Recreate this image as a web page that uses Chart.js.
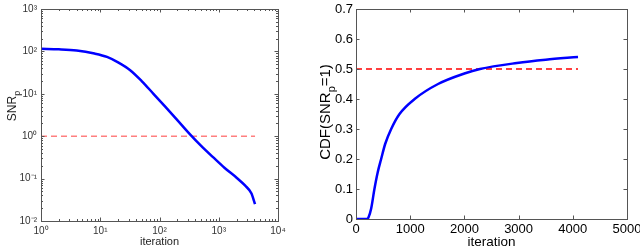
<!DOCTYPE html>
<html><head><meta charset="utf-8">
<script src="https://cdn.jsdelivr.net/npm/chart.js@4/dist/chart.umd.min.js"></script>
<style>
html,body{margin:0;padding:0;background:#fff;overflow:hidden}
#wrap{position:relative;width:640px;height:246px;background:#fff}
canvas{position:absolute;top:0}
#c1{left:0}
#c2{left:320px}
</style></head><body>
<div id="wrap"><canvas id="c1" width="320" height="246"></canvas><canvas id="c2" width="320" height="246"></canvas></div>
<script>
// ---- data ----
const snrIter = [1, 2, 4, 8, 13, 20, 32, 50, 79, 126, 200, 316, 500, 800, 1260, 2000, 2800, 3550, 4096];
const snrVals = [115, 112, 105, 89, 74, 55, 36, 20, 10, 4.9, 2.4, 1.17, 0.6, 0.32, 0.178, 0.105, 0.068, 0.045, 0.025];
const snrRefIter = [1, 4096];
const snrRefVals = [1, 1];

const cdfIter = [0, 100, 200, 230, 280, 340, 400, 464, 538, 649, 803, 1082, 1514, 2000, 2288, 2968, 3500, 4096];
const cdfVals = [0, 0, 0, 0.005, 0.035, 0.1, 0.155, 0.2, 0.25, 0.3, 0.35, 0.4, 0.45, 0.485, 0.5, 0.52, 0.531, 0.54];
const cdfRefIter = [0, 4096];
const cdfRefVals = [0.5, 0.5];

const logXTicks = [1, 10, 100, 1000, 10000];
const logYTicks = [0.01, 0.1, 1, 10, 100, 1000];
const linXTicks = [0, 1000, 2000, 3000, 4000, 5000];
const linYTicks = [0, 0.1, 0.2, 0.3, 0.4, 0.5, 0.6, 0.7];

const xTitle = 'iteration';
const leftYTitle = ['SNR', 'p', ''];
const rightYTitle = ['CDF(SNR', 'p', '=1)'];

const FONT = "'Liberation Sans', Arial, sans-serif";
const sup = {'-':'\u207B','0':'\u2070','1':'\u00B9','2':'\u00B2','3':'\u00B3','4':'\u2074','5':'\u2075','6':'\u2076','7':'\u2077','8':'\u2078','9':'\u2079'};
function powLabel(v){const e=Math.round(Math.log10(v));return '10'+String(e).split('').map(c=>sup[c]).join('');}
function pts(xs, ys){return xs.map((x,i)=>({x:x,y:ys[i]}));}

function fixTicks(list){return function(s){s.ticks = list.map(v=>({value:v}));};}
function fixSize(prop, val){return function(s){s[prop]=val; s.paddingLeft=0; s.paddingRight=0; s.paddingTop=0; s.paddingBottom=0;};}

function framePlugin(cfg){
  return {id:'frame'+cfg.id, afterDatasetsDraw(chart){
    const {ctx, chartArea:a, scales:{x, y}} = chart;
    const L = Math.round(a.left), R = Math.round(a.right), T = Math.round(a.top), B = Math.round(a.bottom);
    ctx.save();
    ctx.strokeStyle = cfg.color; ctx.lineWidth = 1;
    ctx.strokeRect(L+0.5, T+0.5, R-L, B-T);
    ctx.beginPath();
    const xt = (vals, len)=>vals.forEach(v=>{const p=Math.round(x.getPixelForValue(v))+0.5; ctx.moveTo(p,B); ctx.lineTo(p,B-len); ctx.moveTo(p,T); ctx.lineTo(p,T+len);});
    const yt = (vals, len)=>vals.forEach(v=>{const p=Math.round(y.getPixelForValue(v))+0.5; ctx.moveTo(L,p); ctx.lineTo(L+len,p); ctx.moveTo(R,p); ctx.lineTo(R-len,p);});
    xt(cfg.xMajor, 3.5); yt(cfg.yMajor, 3.5);
    if (cfg.xMinor) xt(cfg.xMinor, 2);
    if (cfg.yMinor) yt(cfg.yMinor, 2);
    ctx.stroke();
    // y title with subscript
    const t = cfg.ytitle;
    ctx.translate(cfg.ytx, cfg.yty); ctx.rotate(-Math.PI/2);
    ctx.fillStyle = cfg.tcolor; ctx.textBaseline = 'alphabetic'; ctx.textAlign = 'left';
    const f1 = cfg.tsize + 'px ' + FONT, f2 = Math.round(cfg.tsize*0.72) + 'px ' + FONT;
    ctx.font = f1; const w0 = ctx.measureText(t[0]).width, w2 = ctx.measureText(t[2]).width;
    ctx.font = f2; const w1 = ctx.measureText(t[1]).width;
    let sx = -(w0+w1+w2)/2;
    ctx.font = f1; ctx.fillText(t[0], sx, 0); sx += w0;
    ctx.font = f2; ctx.fillText(t[1], sx, cfg.tsize*0.3); sx += w1;
    ctx.font = f1; ctx.fillText(t[2], sx, 0);
    ctx.restore();
  }};
}
function minorLog(lo, hi){const r=[];for(let d=lo; d<hi; d*=10){for(let k=2;k<10;k++) r.push(d*k);}return r;}

// ---- left chart ----
new Chart(document.getElementById('c1'), {
  type:'line',
  data:{datasets:[
    {data:pts(snrIter, snrVals), borderColor:'#0000ff', borderWidth:2.5, pointRadius:0, cubicInterpolationMode:'monotone', fill:false},
    {data:pts(snrRefIter, snrRefVals), borderColor:'#ff7f7f', borderWidth:1.5, borderDash:[6,4], pointRadius:0, fill:false}
  ]},
  options:{
    responsive:false, animation:false, devicePixelRatio:1,
    layout:{padding:{left:0, right:42, top:9, bottom:0}},
    plugins:{legend:{display:false}, tooltip:{enabled:false}},
    scales:{
      x:{type:'logarithmic', min:1, max:10000, grid:{display:false, drawTicks:false}, border:{display:false},
         afterBuildTicks:fixTicks(logXTicks), afterFit:fixSize('height',25),
         ticks:{callback:powLabel, maxRotation:0, autoSkip:false, padding:4.5, color:'#333', font:{family:FONT, size:10}},
         title:{display:true, text:xTitle, color:'#222', font:{family:FONT, size:11}, padding:{top:0, bottom:-2.8}}},
      y:{type:'logarithmic', min:0.01, max:1000, grid:{display:false, drawTicks:false}, border:{display:false},
         afterBuildTicks:fixTicks(logYTicks), afterFit:fixSize('width',41),
         ticks:{callback:powLabel, autoSkip:false, padding:4, color:'#333', font:{family:FONT, size:10}}}
    }
  },
  plugins:[framePlugin({id:1, color:'#555', xMajor:logXTicks, yMajor:logYTicks, xMinor:minorLog(1,10000), yMinor:minorLog(0.01,1000), ytitle:leftYTitle, ytx:16, yty:106, tsize:12, tcolor:'#222'})]
});

// ---- right chart ----
new Chart(document.getElementById('c2'), {
  type:'line',
  data:{datasets:[
    {data:pts(cdfIter, cdfVals), borderColor:'#0000ff', borderWidth:2.5, pointRadius:0, cubicInterpolationMode:'monotone', fill:false},
    {data:pts(cdfRefIter, cdfRefVals), borderColor:'#ff0000', borderWidth:1.3, borderDash:[6,4], pointRadius:0, fill:false}
  ]},
  options:{
    responsive:false, animation:false, devicePixelRatio:1,
    layout:{padding:{left:0, right:13, top:9, bottom:0}},
    plugins:{legend:{display:false}, tooltip:{enabled:false}},
    scales:{
      x:{type:'linear', min:0, max:5000, grid:{display:false, drawTicks:false}, border:{display:false},
         afterBuildTicks:fixTicks(linXTicks), afterFit:fixSize('height',27),
         ticks:{callback:v=>String(v), maxRotation:0, autoSkip:false, padding:3, color:'#000', font:{family:FONT, size:13}},
         title:{display:true, text:xTitle, color:'#000', font:{family:FONT, size:13.5}, padding:{top:0, bottom:-3.9}}},
      y:{type:'linear', min:0, max:0.7, grid:{display:false, drawTicks:false}, border:{display:false},
         afterBuildTicks:fixTicks(linYTicks), afterFit:fixSize('width',36),
         ticks:{callback:v=>String(Math.round(v*10)/10), autoSkip:false, padding:3, color:'#000', font:{family:FONT, size:13}}}
    }
  },
  plugins:[framePlugin({id:2, color:'#555', xMajor:linXTicks, yMajor:linYTicks, ytitle:rightYTitle, ytx:10, yty:112, tsize:15, tcolor:'#000'})]
});
</script>
</body></html>
